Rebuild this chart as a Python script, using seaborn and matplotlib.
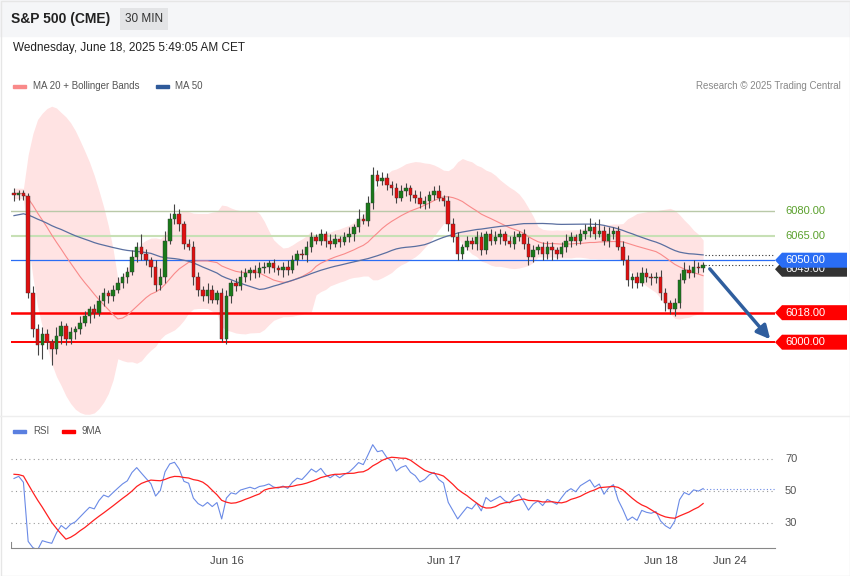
import numpy as np
import pandas as pd
import matplotlib
matplotlib.use("Agg")
import matplotlib.pyplot as plt
import seaborn as sns
from matplotlib.patches import Polygon

# ---------------- data ----------------
history = [6062, 6064, 6060, 6066, 6068, 6065, 6063, 6067, 6070, 6066,
           6064, 6068, 6071, 6069, 6065, 6067, 6070, 6072, 6068, 6066,
           6064, 6067, 6069, 6071, 6068, 6066, 6070, 6073, 6071, 6069,
           6088, 6090, 6092, 6089, 6091, 6093, 6090, 6088, 6091, 6092,
           6094, 6090, 6089, 6091, 6093, 6090, 6088, 6090, 6092, 6091]
closes = [6090, 6091, 6089, 6030, 6008, 5998, 6005, 6000, 5996, 6004,
          6010, 6002, 6006, 6008, 6012, 6016, 6020, 6018, 6025, 6030,
          6028, 6032, 6036, 6040, 6043, 6052, 6058, 6054, 6050, 6046,
          6035, 6040, 6062, 6075, 6078, 6072, 6060, 6058, 6040, 6032,
          6028, 6032, 6026, 6030, 6002, 6028, 6036, 6034, 6040, 6042,
          6044, 6042, 6045, 6046, 6048, 6045, 6044, 6046, 6044, 6050,
          6054, 6053, 6058, 6064, 6062, 6066, 6062, 6060, 6063, 6061,
          6064, 6066, 6070, 6075, 6074, 6085, 6102, 6098, 6100, 6096,
          6094, 6088, 6092, 6094, 6090, 6088, 6084, 6086, 6090, 6092,
          6088, 6086, 6072, 6064, 6054, 6058, 6062, 6060, 6064, 6056,
          6066, 6062, 6064, 6066, 6062, 6060, 6064, 6066, 6060, 6052,
          6056, 6058, 6054, 6058, 6056, 6054, 6058, 6062, 6064, 6062,
          6066, 6068, 6070, 6066, 6068, 6062, 6066, 6068, 6058, 6050,
          6038, 6040, 6036, 6042, 6040, 6039, 6040, 6030, 6024, 6020,
          6024, 6038, 6044, 6042, 6046, 6045, 6047]
wick_up = [3, 2, 2, 2, 4, 3, 4, 3, 2, 5, 3, 2, 3, 2, 4, 3, 2, 3, 4, 3,
           2, 3, 4, 2, 3, 4, 3, 8, 3, 2, 4, 5, 6, 4, 6, 3, 2, 3, 4, 3,
           2, 4, 3, 2, 3, 4, 2, 3, 4, 3, 2, 3, 4, 3, 2, 3, 2, 3, 4, 3,
           2, 3, 4, 3, 2, 3, 2, 4, 3, 2, 3, 4, 2, 6, 3, 4, 5, 3, 4, 3,
           2, 3, 4, 3, 2, 3, 4, 3, 2, 3, 4, 2, 3, 4, 3, 2, 3, 2, 4, 3,
           2, 3, 4, 3, 2, 3, 4, 2, 3, 4, 3, 2, 3, 4, 3, 2, 3, 4, 3, 2,
           3, 4, 6, 3, 7, 3, 4, 2, 3, 4, 3, 2, 3, 4, 3, 2, 3, 4, 3, 2,
           3, 4, 5, 3, 4, 3, 2]
wick_dn = [4, 3, 2, 3, 5, 6, 8, 4, 10, 3, 5, 4, 3, 4, 3, 2, 4, 3, 2, 3,
           4, 3, 2, 3, 4, 2, 3, 4, 3, 6, 4, 3, 4, 2, 3, 4, 3, 2, 5, 4,
           3, 4, 2, 3, 2, 3, 4, 3, 2, 3, 4, 3, 2, 3, 4, 2, 3, 4, 3, 2,
           3, 2, 4, 3, 2, 3, 4, 3, 2, 3, 2, 3, 4, 3, 2, 3, 4, 3, 2, 3,
           4, 3, 2, 3, 4, 3, 2, 3, 4, 3, 2, 3, 4, 3, 4, 3, 2, 3, 4, 3,
           2, 3, 2, 4, 3, 2, 3, 2, 3, 5, 3, 2, 4, 3, 6, 3, 2, 3, 4, 3,
           2, 3, 4, 3, 2, 3, 4, 3, 2, 3, 4, 5, 3, 2, 3, 4, 3, 4, 5, 3,
           4, 3, 2, 3, 2, 3, 2]
levels_green = [6080.00, 6065.00]
level_blue = 6050.00
levels_red = [6018.00, 6000.00]
day_ticks = [45, 91, 137, 151.7]
day_labels = ["Jun 16", "Jun 17", "Jun 18", "Jun 24"]

# ---------------- indicators ----------------
allc = pd.Series(history + closes, dtype=float)
n_h = len(history)
ma20 = allc.rolling(20).mean()
sd20 = allc.rolling(20).std(ddof=0)
ma50 = allc.rolling(50).mean()
delta = allc.diff()
gain = delta.clip(lower=0).ewm(alpha=1/14, adjust=False).mean()
loss = (-delta.clip(upper=0)).ewm(alpha=1/14, adjust=False).mean()
rsi = 100 - 100 / (1 + gain / loss)
rsi_ma = rsi.rolling(9).mean()

N = len(closes)
idx = np.arange(N)
opens = [allc[n_h - 1]] + closes[:-1]
df = pd.DataFrame({"i": idx, "o": opens, "c": closes,
                   "ma20": ma20[n_h:].values, "up": (ma20 + 2*sd20)[n_h:].values,
                   "dn": (ma20 - 2*sd20)[n_h:].values, "ma50": ma50[n_h:].values,
                   "rsi": rsi[n_h:].values, "rsima": rsi_ma[n_h:].values})
df["hi"] = np.maximum(df.o, df.c) + np.array(wick_up)
df["lo"] = np.minimum(df.o, df.c) - np.array(wick_dn)

# ---------------- figure ----------------
W, H = 850, 576
fig = plt.figure(figsize=(W/100, H/100), dpi=100)
plt.rcParams["font.family"] = "Liberation Sans"

def ax_rect(x0, y0, x1, y1):
    return [x0/W, 1 - y1/H, (x1-x0)/W, (y1-y0)/H]

px_per = 4.72
xl = ((11-14)/px_per, (775-14)/px_per)

# header
fig.patches.append(plt.Rectangle((0, 1-36/H), 1, 36/H, transform=fig.transFigure,
                                 color="#f5f6f8", zorder=0))
fig.text(11/W, 1-19/H, "S&P 500 (CME)", fontsize=10, weight="bold", color="#222", va="center")
fig.text(125/W, 1-19/H, "30 MIN", fontsize=8.5, color="#333", va="center",
         bbox=dict(boxstyle="square,pad=0.45", fc="#e3e4e6", ec="none"))
fig.text(13/W, 1-48/H, "Wednesday, June 18, 2025 5:49:05 AM CET", fontsize=8.5, color="#222", va="center")
fig.patches.append(plt.Rectangle((13/W, 1-88/H), 13/W, 3/H, transform=fig.transFigure, color="#f98a8a"))
fig.text(33/W, 1-86/H, "MA 20 + Bollinger Bands", fontsize=7, color="#555", va="center")
fig.patches.append(plt.Rectangle((156/W, 1-88/H), 13/W, 3/H, transform=fig.transFigure, color="#2f5a9a"))
fig.text(175/W, 1-86/H, "MA 50", fontsize=7, color="#555", va="center")
fig.text(841/W, 1-86/H, "Research © 2025 Trading Central", fontsize=7, color="#888", va="center", ha="right")

# main axes
ax = fig.add_axes(ax_rect(11, 95, 775, 415))
ylo, yhi = 6080 - (415-211)/1.64, 6080 + (211-95)/1.64
ax.set_xlim(*xl); ax.set_ylim(ylo, yhi)
ax.fill_between(df.i, df.dn, df.up, color="#ffdede", alpha=0.85, lw=0, zorder=1)
sns.lineplot(data=df, x="i", y="ma20", ax=ax, color="#f98a8a", lw=0.8, zorder=3)
sns.lineplot(data=df, x="i", y="ma50", ax=ax, color="#5a6fa0", lw=0.9, zorder=3)
ax.axhline(levels_green[0], color="#b9c9a8", lw=1, zorder=2)
ax.axhline(levels_green[1], color="#c7e0b5", lw=1.5, zorder=2)
ax.axhline(level_blue, color="#2a6df4", lw=0.9, zorder=2)
ax.axhline(levels_red[0], color="#ff0000", lw=1.8, zorder=2)
ax.axhline(levels_red[1], color="#ff0000", lw=1.4, zorder=2)
up = df.c >= df.o
ax.vlines(df.i, df.lo, df.hi, color="#444", lw=0.8, zorder=4)
cols = np.where(up, "#1a7a1a", "#e01010")
ax.bar(df.i, (df.c - df.o).abs().clip(lower=0.6), bottom=np.minimum(df.o, df.c),
       width=0.75, color=cols, edgecolor="#333", lw=0.3, zorder=5)
last = N - 1
ax.hlines([df.ma50.iloc[-1], closes[-1]], last + 0.5, xl[1], colors="#333", linestyles=(0, (1, 2)), lw=0.8)
ax.annotate("", xy=((772-14)/px_per, 6000.5), xytext=((708-14)/px_per, closes[-1] - 1),
            arrowprops=dict(arrowstyle="-|>,head_width=0.4,head_length=0.8", color="#2f5e9e", lw=2.5))
ax.axis("off")

def tag(price, text, fc, tc="white", z=5):
    yp = 1 - (211 + (6080 - price)*1.64)/H
    h = 15/H
    pts = [(775/W, yp), (782/W, yp+h/2), (847/W, yp+h/2), (847/W, yp-h/2), (782/W, yp-h/2)]
    fig.add_artist(Polygon(pts, closed=True, transform=fig.transFigure, fc=fc, ec="none", zorder=z))
    fig.text(785/W, yp, text, fontsize=8, color=tc, va="center", zorder=z + 0.5)

for p in levels_green:
    fig.text(785/W, 1 - (211 + (6080 - p)*1.64)/H, f"{p:.2f}", fontsize=8, color="#5aa02c", va="center")
tag(closes[-1] - 2.5, f"{closes[-1] + 2:.2f}", "#333", z=5)
tag(level_blue, f"{level_blue:.2f}", "#2a6df4", z=7)
for p in levels_red:
    tag(p, f"{p:.2f}", "#ff0000")

# separator
fig.add_artist(plt.Line2D([0, 1], [1-416/H, 1-416/H], color="#eeeeee", lw=1))

# RSI legend
fig.patches.append(plt.Rectangle((13/W, 1-433/H), 13/W, 3/H, transform=fig.transFigure, color="#5a7fe0"))
fig.text(33/W, 1-431/H, "RSI", fontsize=7, color="#555", va="center")
fig.patches.append(plt.Rectangle((62/W, 1-433/H), 13/W, 3/H, transform=fig.transFigure, color="#ff0000"))
fig.text(82/W, 1-431/H, "9MA", fontsize=7, color="#555", va="center")

rx = fig.add_axes(ax_rect(11, 440, 775, 548))
rx.set_xlim(*xl)
rx.set_ylim(70 - (548-459)/1.6, 70 + (459-440)/1.6)
for lv in (70, 50, 30):
    rx.axhline(lv, color="#999", lw=0.8, linestyle=(0, (1, 3)))
    fig.text(785/W, 1 - (459 + (70 - lv)*1.6)/H, str(lv), fontsize=8, color="#555", va="center")
sns.lineplot(data=df, x="i", y="rsi", ax=rx, color="#6a8ae6", lw=0.8)
sns.lineplot(data=df, x="i", y="rsima", ax=rx, color="#ff2020", lw=0.9)
rx.hlines(df.rsi.iloc[-1], last, xl[1], colors="#6a8ae6", linestyles=(0, (1, 2)), lw=0.8)
for s in ("top", "right", "left"):
    rx.spines[s].set_visible(False)
rx.spines["bottom"].set_color("#888")
rx.set_yticks([])
rx.set_xticks(day_ticks)
rx.set_xticklabels(day_labels, fontsize=8, color="#444")
rx.tick_params(axis="x", length=0, pad=6)
rx.set_xlabel(""); rx.set_ylabel("")
rx.axvline(xl[0], ymax=0.06, color="#888", lw=0.8)

fig.add_artist(plt.Rectangle((0.5/W, 0.5/H), 1-1/W, 1-1/H, transform=fig.transFigure,
                             fill=False, ec="#e6e6e6", lw=1))
fig.savefig("out.png", dpi=100)
